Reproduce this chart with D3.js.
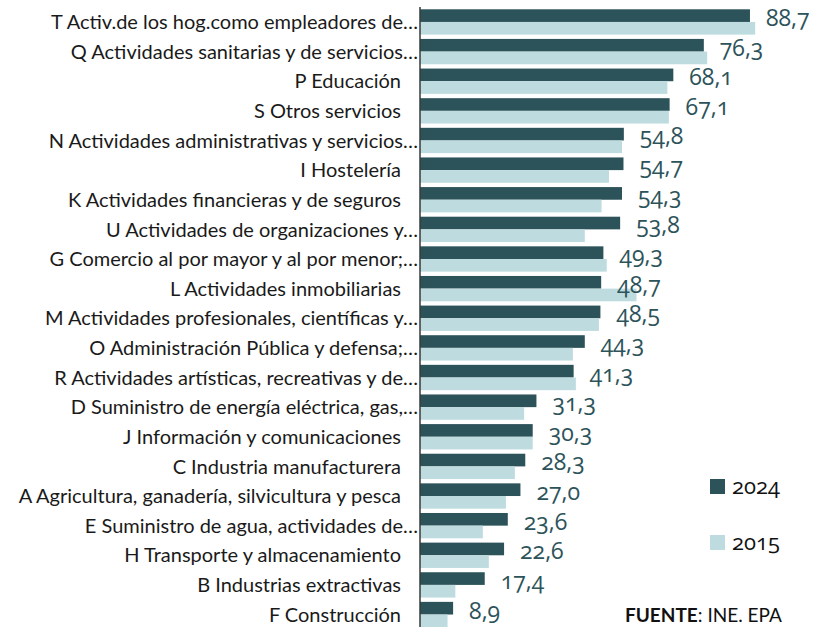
<!DOCTYPE html>
<html>
<head>
<meta charset="utf-8">
<script src="https://cdn.jsdelivr.net/npm/d3@7"></script>
<style>
  html, body { margin: 0; padding: 0; background: #ffffff; }
  svg { display: block; font-family: Lato, "Open Sans", sans-serif; }
  .num { font-family: "Open Sans", "Noto Sans", sans-serif; font-variant-numeric: oldstyle-nums; font-feature-settings: "onum" 1; }
</style>
</head>
<body>
<svg id="chart" width="813" height="627"></svg>
<script>
// Sector labels (already shortened as they appear on the axis)
const categories = [
  "T Activ.de los hog.como empleadores de…",
  "Q Actividades sanitarias y de servicios…",
  "P Educación",
  "S Otros servicios",
  "N Actividades administrativas y servicios…",
  "I Hostelería",
  "K Actividades financieras y de seguros",
  "U Actividades de organizaciones y…",
  "G Comercio al por mayor y al por menor;…",
  "L Actividades inmobiliarias",
  "M Actividades profesionales, científicas y…",
  "O Administración Pública y defensa;…",
  "R Actividades artísticas, recreativas y de…",
  "D Suministro de energía eléctrica, gas,…",
  "J Información y comunicaciones",
  "C Industria manufacturera",
  "A Agricultura, ganadería, silvicultura y pesca",
  "E Suministro de agua, actividades de…",
  "H Transporte y almacenamiento",
  "B Industrias extractivas",
  "F Construcción"
];
const values2024 = [88.7, 76.3, 68.1, 67.1, 54.8, 54.7, 54.3, 53.8, 49.3, 48.7, 48.5, 44.3, 41.3, 31.3, 30.3, 28.3, 27.0, 23.6, 22.6, 17.4, 8.9];
const values2015 = [90.1, 77.2, 66.5, 66.9, 54.3, 50.8, 48.8, 44.3, 50.2, 58.2, 48.1, 41.1, 41.9, 28.0, 30.3, 25.5, 23.1, 16.9, 18.5, 9.5, 7.4];
const seriesNames = ["2024", "2015"];
const source = { bold: "FUENTE", rest: ": INE. EPA" };

const colors = { "2024": "#2d535a", "2015": "#bedcdf" };
const fmt = v => d3.format(".1f")(v).replace(".", ",");

const svg = d3.select("#chart");
const axisX = 420;

const x = d3.scaleLinear().domain([0, 100]).range([axisX, 792]);
const y = d3.scaleBand().domain(categories).range([7.15, 629.35])
  .paddingInner(0.145).paddingOuter(0.0725);
const ySub = d3.scaleBand().domain(seriesNames).range([0, y.bandwidth()]);

const rows = categories.map((c, i) => ({ c, v2024: values2024[i], v2015: values2015[i] }));

// Bars
const g = svg.append("g");
rows.forEach(r => {
  [["2024", r.v2024], ["2015", r.v2015]].forEach(([s, v]) => {
    g.append("rect")
      .attr("x", x(0))
      .attr("y", y(r.c) + ySub(s))
      .attr("width", x(v) - x(0))
      .attr("height", ySub.bandwidth())
      .attr("fill", colors[s]);
  });
});

// Category axis line
svg.append("line")
  .attr("x1", axisX).attr("x2", axisX)
  .attr("y1", 7).attr("y2", 627)
  .attr("stroke", "#3a3a3a").attr("stroke-width", 1.5);

// Category labels
svg.append("g").selectAll("text").data(rows).join("text")
  .attr("x", d => d.c.endsWith("…") ? axisX - 2 : axisX - 19)
  .attr("y", d => y(d.c) + y.bandwidth() / 2)
  .attr("dy", "0.36em")
  .attr("text-anchor", "end")
  .attr("font-size", 20)
  .attr("fill", "#1a1a1a")
  .text(d => d.c);

// Value labels for 2024
svg.append("g").selectAll("text").data(rows).join("text")
  .attr("class", "num")
  .attr("x", d => x(d.v2024) + 16)
  .attr("y", d => y(d.c) + ySub.bandwidth() + 4)
  .attr("font-size", 23)
  .attr("fill", "#2d535a")
  .text(d => fmt(d.v2024));

// Legend
const legend = svg.append("g");
seriesNames.forEach((s, i) => {
  const ly = 479 + i * 56;
  legend.append("rect").attr("x", 710).attr("y", ly).attr("width", 15).attr("height", 15)
    .attr("fill", colors[s]);
  legend.append("text").attr("class", "num")
    .attr("x", 732).attr("y", ly + 15)
    .attr("font-size", 22).attr("fill", "#111")
    .text(s);
});

// Source note
const src = svg.append("text").attr("x", 625).attr("y", 622)
  .attr("font-size", 19).attr("fill", "#111");
src.append("tspan").attr("font-weight", "bold").text(source.bold);
src.append("tspan").text(source.rest);
</script>
</body>
</html>
